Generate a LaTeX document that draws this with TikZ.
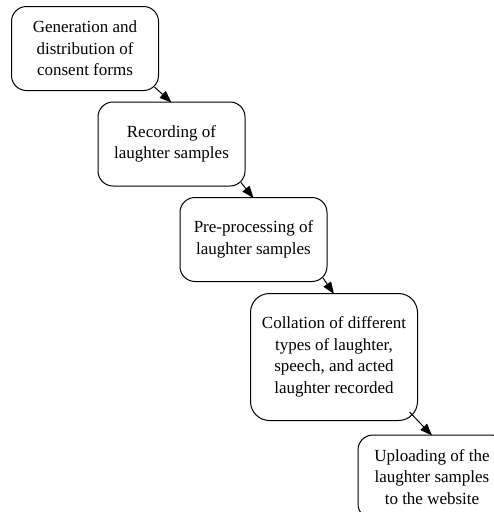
\documentclass[tikz,border=0pt]{standalone}
\usepackage{fontspec}
\setmainfont{Liberation Serif}
\usetikzlibrary{arrows.meta}

\tikzset{
	stepbox/.style={draw, rectangle, rounded corners=15pt, line width=1pt, align=center, inner sep=0pt,
		minimum width=147pt, minimum height=84pt, font=\fontsize{17}{21.5}\selectfont},
	flow/.style={->, >={Triangle[length=12pt, width=9pt]}, line width=1pt}
}

\begin{document}
\begin{tikzpicture}[x=1pt, y=1pt]
				\useasboundingbox (0,0) rectangle (494,-512);
				\clip (0,0) rectangle (494,-512);
				\node[stepbox] (gen)at(85, -48.5) {Generation and\\distribution of\\consent forms};
				\node[stepbox] (rec)at(171.5, -144) {Recording of\\laughter samples};
				\node[stepbox] (pre)at(253.5, -239.5) {Pre-processing of\\laughter samples};
				\node[stepbox, rounded corners=19pt, minimum width=167pt, minimum height=127pt] (col)at(334, -357) {Collation of different\\types of laughter,\\speech, and acted\\laughter recorded};
				\node[stepbox, minimum width=148pt] (upl)at(432, -477) {Uploading of the\\laughter samples\\to the website};
				\draw[flow] ([shift={(-4.5,4)}]gen.south east) -- ([yshift=-1]rec.north);
				\draw[flow] ([shift={(-4.5,4)}]rec.south east) -- ([yshift=-1]pre.north);
				\draw[flow] ([shift={(-4.5,4)}]pre.south east) -- ([yshift=-1]col.north);
				\draw[flow] ([shift={(-8.5,9)}]col.south east) -- ([yshift=-1]upl.north);
			\end{tikzpicture}
\end{document}
